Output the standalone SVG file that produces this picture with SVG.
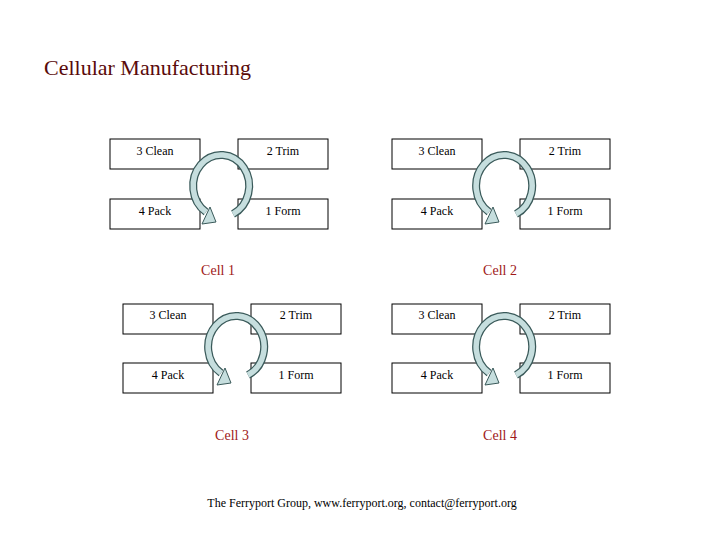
<svg xmlns="http://www.w3.org/2000/svg" width="720" height="540" viewBox="0 0 720 540">
<style>
.box{fill:#fff;stroke:#000;stroke-width:1}
.t{font-family:"Liberation Serif",serif;font-size:12px;text-anchor:middle;fill:#000}
.cl{font-family:"Liberation Serif",serif;font-size:14px;text-anchor:middle;fill:#a01818}
.ao{fill:none;stroke:#3a5a5a;stroke-width:8}
.ai{fill:none;stroke:#c6dede;stroke-width:5.5}
.ah{fill:#c6dede;stroke:#3a5a5a;stroke-width:1}
</style>
<defs>
<g id="arr">
<path class="ao" d="M233 214 A28 31 0 1 0 206 212"/>
<path class="ai" d="M233 214 A28 31 0 1 0 206 212"/>
<polygon class="ah" points="210,207 216,222 202,224"/>
</g>
</defs>
<rect width="720" height="540" fill="#fff"/>
<text x="44" y="75" font-family="Liberation Serif,serif" font-size="22" fill="#5a0a0a">Cellular Manufacturing</text>
<g id="cell1">
<rect class="box" x="110" y="139" width="90" height="30"/><text class="t" x="155" y="155">3 Clean</text>
<rect class="box" x="238" y="139" width="90" height="30"/><text class="t" x="283" y="155">2 Trim</text>
<rect class="box" x="110" y="199" width="90" height="30"/><text class="t" x="155" y="215">4 Pack</text>
<rect class="box" x="238" y="199" width="90" height="30"/><text class="t" x="283" y="215">1 Form</text>
<text class="cl" x="218" y="275">Cell 1</text>
</g>
<g id="cell2">
<rect class="box" x="392" y="139" width="90" height="30"/><text class="t" x="437" y="155">3 Clean</text>
<rect class="box" x="520" y="139" width="90" height="30"/><text class="t" x="565" y="155">2 Trim</text>
<rect class="box" x="392" y="199" width="90" height="30"/><text class="t" x="437" y="215">4 Pack</text>
<rect class="box" x="520" y="199" width="90" height="30"/><text class="t" x="565" y="215">1 Form</text>
<text class="cl" x="500" y="275">Cell 2</text>
</g>
<g id="cell3">
<rect class="box" x="123" y="304" width="90" height="30"/><text class="t" x="168" y="319">3 Clean</text>
<rect class="box" x="251" y="304" width="90" height="30"/><text class="t" x="296" y="319">2 Trim</text>
<rect class="box" x="123" y="363" width="90" height="30"/><text class="t" x="168" y="379">4 Pack</text>
<rect class="box" x="251" y="363" width="90" height="30"/><text class="t" x="296" y="379">1 Form</text>
<text class="cl" x="232" y="440">Cell 3</text>
</g>
<g id="cell4">
<rect class="box" x="392" y="304" width="90" height="30"/><text class="t" x="437" y="319">3 Clean</text>
<rect class="box" x="520" y="304" width="90" height="30"/><text class="t" x="565" y="319">2 Trim</text>
<rect class="box" x="392" y="363" width="90" height="30"/><text class="t" x="437" y="379">4 Pack</text>
<rect class="box" x="520" y="363" width="90" height="30"/><text class="t" x="565" y="379">1 Form</text>
<text class="cl" x="500" y="440">Cell 4</text>
</g>
<g id="connectors">
<use href="#arr"/>
<use href="#arr" transform="translate(283,0)"/>
<use href="#arr" transform="translate(15,161)"/>
<use href="#arr" transform="translate(283,161)"/>
</g>
<text x="362" y="507" font-family="Liberation Serif,serif" font-size="12" text-anchor="middle" fill="#000">The Ferryport Group, www.ferryport.org, contact@ferryport.org</text>
</svg>
